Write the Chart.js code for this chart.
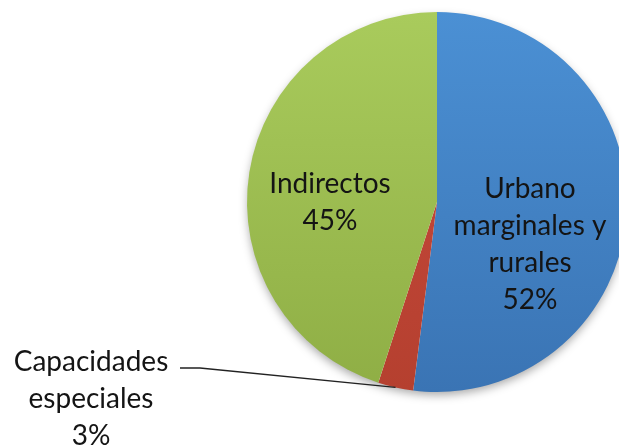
<!DOCTYPE html>
<html><head><meta charset="utf-8">
<script src="https://cdn.jsdelivr.net/npm/chart.js@4.4.1/dist/chart.umd.min.js"></script>
<style>html,body{margin:0;padding:0;background:#fff;overflow:hidden}#wrap{width:619px;height:445px;position:relative}</style>
</head><body><div id="wrap"><canvas id="c" width="619" height="445"></canvas></div>
<script>
const categories = ["Urbano marginales y rurales", "Capacidades especiales", "Indirectos"];
const values = [52, 3, 45];
const valueLabels = ["52%", "3%", "45%"];
const labelLines = [["Urbano", "marginales y", "rurales", "52%"], ["Capacidades", "especiales", "3%"], ["Indirectos", "45%"]];
const colorsTop = ["#4B90D4", "#C94A3E", "#A9CB5C"];
const colorsBottom = ["#3A74B4", "#B5402F", "#8FAE45"];

const FONT = "28px Lato";
const labelPlugin = {
  id: 'labels',
  beforeDatasetsDraw(chart) {
    const meta = chart.getDatasetMeta(0);
    const a = meta.data[0];
    const ctx = chart.ctx;
    ctx.save();
    ctx.shadowColor = 'rgba(0,0,0,0.35)';
    ctx.shadowBlur = 10;
    ctx.shadowOffsetY = 4;
    ctx.fillStyle = '#fff';
    ctx.beginPath();
    ctx.arc(a.x, a.y, a.outerRadius - 1, 0, Math.PI * 2);
    ctx.fill();
    ctx.restore();
  },
  afterDatasetsDraw(chart) {
    const ctx = chart.ctx;
    const meta = chart.getDatasetMeta(0);
    ctx.save();
    ctx.fillStyle = '#141414';
    ctx.font = FONT;
    ctx.textAlign = 'center';
    ctx.textBaseline = 'alphabetic';
    const step = 37;
    const cx = meta.data[0].x, cy = meta.data[0].y, r = meta.data[0].outerRadius;
    const spots = [
      {x: cx + 93, y: cy - 4},
      {x: 91, y: 371},
      {x: cx - 107, y: cy - 9}
    ];
    labelLines.forEach((lines, i) => {
      lines.forEach((t, j) => ctx.fillText(t, spots[i].x, spots[i].y + j * step));
    });
    const arc = meta.data[1];
    const mid = (arc.startAngle + arc.endAngle) / 2;
    const ex = cx + Math.cos(mid) * r, ey = cy + Math.sin(mid) * r;
    ctx.strokeStyle = '#222';
    ctx.lineWidth = 1.3;
    ctx.beginPath();
    ctx.moveTo(180, 368);
    ctx.lineTo(200, 368);
    ctx.lineTo(ex, ey);
    ctx.stroke();
    ctx.restore();
  }
};

function grad(ctx, i) {
  const chart = ctx.chart;
  const ca = chart.chartArea;
  if (!ca) return colorsTop[i];
  const g = chart.ctx.createLinearGradient(0, 12, 0, 392);
  g.addColorStop(0, colorsTop[i]);
  g.addColorStop(1, colorsBottom[i]);
  return g;
}

new Chart(document.getElementById('c'), {
  type: 'pie',
  data: {
    labels: categories,
    datasets: [{
      data: values,
      backgroundColor: (ctx) => grad(ctx, ctx.dataIndex),
      borderWidth: 0,
      clip: false,
      radius: 190
    }]
  },
  options: {
    responsive: false,
    animation: false,
    layout: {padding: {left: 255, right: 0, top: 0, bottom: 41}},
    plugins: {legend: {display: false}, tooltip: {enabled: false}}
  },
  plugins: [labelPlugin]
});
</script></body></html>
